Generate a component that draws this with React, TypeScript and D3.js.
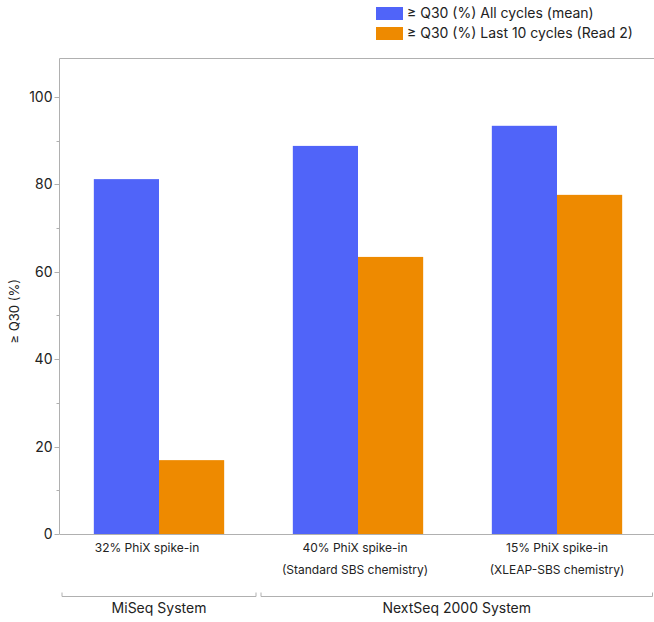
import React from "react";
import * as d3 from "d3";

const categories = ["32% PhiX spike-in", "40% PhiX spike-in", "15% PhiX spike-in"];
const subLabels = ["", "(Standard SBS chemistry)", "(XLEAP-SBS chemistry)"];
const seriesNames = ["≥ Q30 (%) All cycles (mean)", "≥ Q30 (%) Last 10 cycles (Read 2)"];
const allCycles = [81.2, 88.8, 93.4];
const last10 = [16.9, 63.4, 77.6];
const yTicks = [0, 20, 40, 60, 80, 100];
const yMinorTicks = [10, 30, 50, 70, 90];
const groups = [
  { name: "MiSeq System", from: 0, to: 0 },
  { name: "NextSeq 2000 System", from: 1, to: 2 },
];
const colors = ["#5064F9", "#EE8A00"];
const labelShift = [-12, -3, 0];

export default function App() {
  const W = 654, H = 622;
  const left = 59.5, right = 656.5, top = 58.5, bottom = 534;
  const font = "Inter, 'Noto Sans', sans-serif";
  const axisColor = "#b0b0b0";

  const x = d3.scaleBand<string>().domain(categories).range([left, right]).paddingInner(0.345).paddingOuter(0.1725);
  const sub = d3.scaleBand<number>().domain([0, 1]).range([0, x.bandwidth()]);
  const y = d3.scaleLinear().domain([0, 108.8]).range([bottom, top]);
  const series = [allCycles, last10];

  const step = x.step();
  return (
    <svg width={W} height={H} style={{ position: "absolute", left: 0, top: 0 }} fontFamily={font}>
      <line x1={left} x2={W} y1={top} y2={top} stroke={axisColor} strokeWidth={1} />
      <line x1={left} x2={left} y1={top} y2={bottom} stroke={axisColor} strokeWidth={1} />
      {series.map((vals, si) =>
        vals.map((v, i) => (
          <rect
            key={`${si}-${i}`}
            x={(x(categories[i]) as number) + (sub(si) as number)}
            y={y(v)}
            width={sub.bandwidth()}
            height={y(0) - y(v)}
            fill={colors[si]}
          />
        ))
      )}
      <line x1={left} x2={W} y1={bottom + 0.5} y2={bottom + 0.5} stroke={axisColor} strokeWidth={1} />
      {yTicks.map((t) => (
        <g key={t} transform={`translate(0,${Math.round(y(t)) + 0.5})`}>
          <line x1={left - 5} x2={left} stroke={axisColor} />
          <text x={left - 7} dy="0.35em" textAnchor="end" fontSize={14} fill="#222">{t}</text>
        </g>
      ))}
      {yMinorTicks.map((t) => (
        <line key={t} x1={left - 3} x2={left} y1={Math.round(y(t)) + 0.5} y2={Math.round(y(t)) + 0.5} stroke={axisColor} />
      ))}
      <text transform={`translate(19,${(top + bottom) / 2 + 15}) rotate(-90)`} textAnchor="middle" fontSize={13} fill="#222">≥ Q30 (%)</text>
      {categories.map((c, i) => {
        const cx = (x(c) as number) + x.bandwidth() / 2 + labelShift[i];
        return (
          <g key={c}>
            <text x={cx} y={552} textAnchor="middle" fontSize={12} fill="#222">{c}</text>
            {subLabels[i] && <text x={cx} y={574} textAnchor="middle" fontSize={12} fill="#222">{subLabels[i]}</text>}
          </g>
        );
      })}
      {groups.map((g) => {
        const bandStart = g.from === 0 ? left + 2 : (x(categories[g.from]) as number) - (step - x.bandwidth()) / 2 + 2;
        const bandEnd = g.to === categories.length - 1 ? W - 1 : (x(categories[g.to]) as number) + x.bandwidth() + (step - x.bandwidth()) / 2 - 2;
        const yb = 596.5;
        return (
          <g key={g.name}>
            <path d={`M${bandStart + 0.5},${yb - 4}V${yb}H${bandEnd - 0.5}V${yb - 4}`} fill="none" stroke={axisColor} />
            <text x={(bandStart + bandEnd) / 2} y={613} textAnchor="middle" fontSize={14} fill="#222">{g.name}</text>
          </g>
        );
      })}
      {seriesNames.map((n, i) => (
        <g key={n} transform={`translate(376,${7 + i * 20})`}>
          <rect width={27} height={13} fill={colors[i]} />
          <text x={31} y={11} fontSize={14} fill="#222">{n}</text>
        </g>
      ))}
    </svg>
  );
}
